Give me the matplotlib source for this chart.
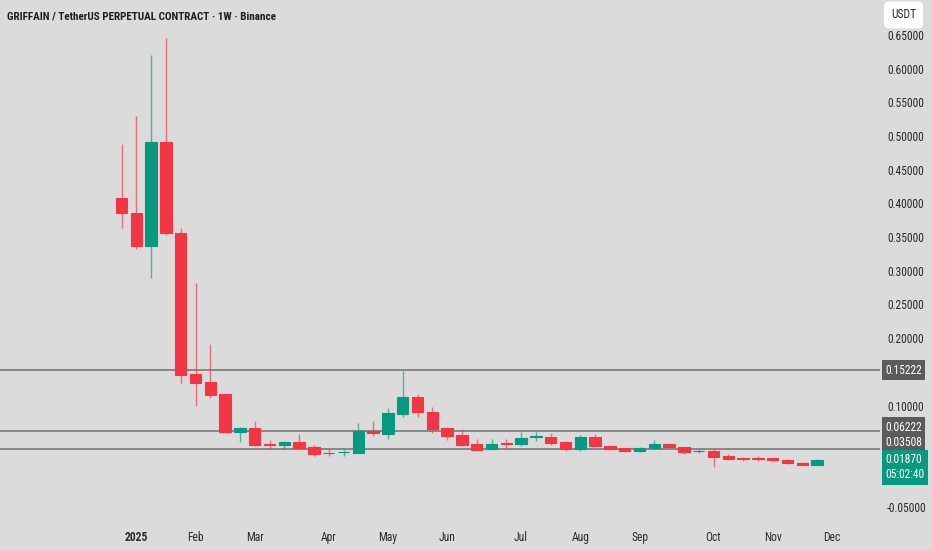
import matplotlib
matplotlib.use("Agg")
import matplotlib.pyplot as plt
import matplotlib.transforms as mtransforms
from matplotlib import font_manager
import pandas as pd

# weekly candles, GRIFFAIN / USDT perp
opens = [0.4076, 0.3853, 0.3368, 0.4906, 0.3556, 0.1464, 0.1345, 0.1168, 0.0603, 0.0663,
         0.0425, 0.0415, 0.0460, 0.0386, 0.0300, 0.0305, 0.0297, 0.0623, 0.0584, 0.0880,
         0.1132, 0.0910, 0.0668, 0.0559, 0.0425, 0.0351, 0.0440, 0.0425, 0.0535, 0.0539,
         0.0455, 0.0351, 0.0539, 0.0405, 0.0366, 0.0326, 0.0371, 0.0430, 0.0386, 0.0322,
         0.0331, 0.0257, 0.0216, 0.0218, 0.0218, 0.0193, 0.0148, 0.0124]
highs = [0.488, 0.529, 0.620, 0.645, 0.363, 0.2824, 0.191, 0.1187, 0.0682, 0.0776,
         0.049, 0.048, 0.0583, 0.0415, 0.035, 0.0341, 0.0747, 0.0772, 0.096, 0.1518,
         0.1177, 0.0975, 0.0687, 0.0648, 0.051, 0.050, 0.050, 0.0613, 0.0608, 0.0589,
         0.047, 0.0564, 0.0574, 0.0410, 0.0371, 0.039, 0.049, 0.045, 0.0390, 0.0356,
         0.0351, 0.0287, 0.0242, 0.0252, 0.0222, 0.0213, 0.0168, 0.0208]
lows = [0.363, 0.3328, 0.2888, 0.353, 0.133, 0.0999, 0.1118, 0.0589, 0.0465, 0.0405,
        0.035, 0.035, 0.0356, 0.0257, 0.0252, 0.0257, 0.0292, 0.0554, 0.051, 0.0826,
        0.0835, 0.0589, 0.049, 0.040, 0.0331, 0.0341, 0.0366, 0.0405, 0.047, 0.0411,
        0.0331, 0.0331, 0.0381, 0.0346, 0.0316, 0.0307, 0.036, 0.0371, 0.0282, 0.0292,
        0.0094, 0.0193, 0.0183, 0.0183, 0.0158, 0.0140, 0.0121, 0.0124]
closes = [0.3853, 0.3368, 0.4906, 0.3556, 0.1454, 0.1340, 0.1157, 0.0603, 0.0663, 0.0415,
          0.0415, 0.0455, 0.0376, 0.0277, 0.0292, 0.0315, 0.0623, 0.0589, 0.0890, 0.1132,
          0.0905, 0.0653, 0.0549, 0.0415, 0.0346, 0.0435, 0.0432, 0.0519, 0.0542, 0.0450,
          0.0351, 0.0539, 0.0405, 0.0356, 0.0326, 0.0376, 0.0435, 0.0381, 0.0312, 0.0330,
          0.0242, 0.0208, 0.0211, 0.0211, 0.0188, 0.0143, 0.0124, 0.0187]

weeks = pd.date_range("2024-12-30", periods=49, freq="W-MON")  # one extra for the Dec label

levels = [0.15222, 0.06222, 0.03508]
last_price = 0.01870
countdown = "05:02:40"
price_ticks = [0.65, 0.60, 0.55, 0.50, 0.45, 0.40, 0.35, 0.30, 0.25, 0.20, 0.10, -0.05]
title = "GRIFFAIN / TetherUS PERPETUAL CONTRACT · 1W · Binance"

# pick a narrow font if there is one
names = set(f.name for f in font_manager.fontManager.ttflist)
narrow = "DejaVu Sans"
for cand in ["Liberation Sans Narrow", "DejaVu Sans Condensed", "Roboto Condensed", "Liberation Sans"]:
    if cand in names:
        narrow = cand
        break
plt.rcParams["font.family"] = [narrow, "DejaVu Sans"]
plt.rcParams["axes.unicode_minus"] = False

bg = "#dbdbdb"
red = "#f23645"
green = "#089981"
txt = "#2a2a2a"

fig = plt.figure(figsize=(9.32, 5.5), dpi=100, facecolor=bg)
ax = fig.add_axes([0, 0, 880 / 932, 1])
ax.set_facecolor(bg)
for s in ax.spines.values():
    s.set_visible(False)

step = 14.8
ax.set_xlim(-121.5 / step, (880 - 121.5) / step)
ax.set_ylim((473 - 550) / 674, 473 / 674)

# candles
for i in range(len(opens)):
    o, h, l, c = opens[i], highs[i], lows[i], closes[i]
    col = green if c >= o else red
    ax.vlines(i, l, h, color=col, lw=1, alpha=0.65, zorder=2)
    ax.bar(i, abs(c - o), bottom=min(o, c), width=0.78, color=col,
           edgecolor=col, linewidth=0.8, zorder=3)

# horizontal levels
for lv in levels:
    ax.axhline(lv, color="#808080", lw=1.3, zorder=1)

# right price scale
ax.yaxis.tick_right()
ax.set_yticks(price_ticks)
ax.set_yticklabels(["%.5f" % v for v in price_ticks])
ax.tick_params(axis="y", length=0, pad=5, labelsize=8.3, labelcolor=txt)

# month labels, drawn inside the plot near the bottom
tick_pos, tick_lab = [], []
for i in range(1, len(weeks)):
    if weeks[i].month != weeks[i - 1].month:
        tick_pos.append(i)
        tick_lab.append(str(weeks[i].year) if weeks[i].month == 1 else weeks[i].strftime("%b"))
ax.set_xticks(tick_pos)
ax.set_xticklabels(tick_lab)
ax.tick_params(axis="x", length=0, pad=-13.5, labelsize=8.3, labelcolor=txt)
for lab in ax.get_xticklabels():
    if lab.get_text().isdigit():
        lab.set_fontweight("bold")

# price labels on the scale
trans = mtransforms.blended_transform_factory(ax.transAxes, ax.transData)
offsets = [0, 4, 7]
for lv, off in zip(levels, offsets):
    ax.annotate("%.5f" % lv, xy=(1.0, lv), xycoords=trans, xytext=(5, off),
                textcoords="offset pixels", ha="left", va="center", fontsize=8.3,
                color="white", annotation_clip=False,
                bbox=dict(boxstyle="square,pad=0.3", fc="#5b5b5b", ec="none"))
ax.annotate("%.5f\n%s" % (last_price, countdown), xy=(1.0, last_price), xycoords=trans,
            xytext=(5, -7), textcoords="offset pixels", ha="left", va="center",
            fontsize=8.3, color="white", linespacing=1.2, annotation_clip=False,
            bbox=dict(boxstyle="square,pad=0.3", fc=green, ec="none"))

fig.text(7 / 932, 1 - 16 / 550, title, ha="left", va="center", fontsize=8,
         fontweight="bold", color="#1e1e1e")
fig.text(891 / 932, 1 - 15 / 550, "USDT", ha="left", va="center", fontsize=8.3, color=txt,
         bbox=dict(boxstyle="round,pad=0.6,rounding_size=0.4", fc="white", ec="none"))

fig.savefig("out.png", dpi=100, facecolor=bg)
